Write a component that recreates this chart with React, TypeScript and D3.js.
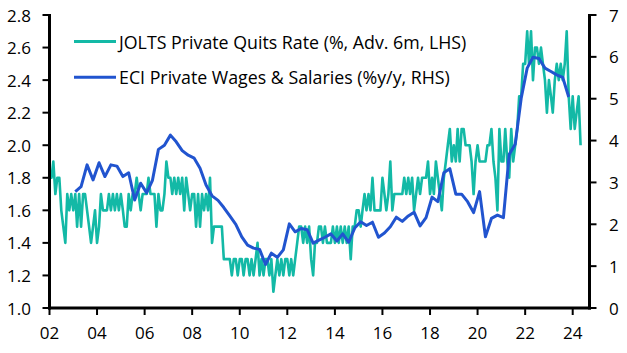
import React from "react";
import * as d3 from "d3";

// JOLTS private quits rate (%), advanced 6 months, monthly from Jan 2002
const joltsStartYear = 2002;
const joltsValues: number[] = [
  // 2002
  1.8, 1.8, 1.9, 1.7, 1.8, 1.8, 1.6, 1.5, 1.4, 1.7, 1.6, 1.7,
  // 2003
  1.6, 1.7, 1.5, 1.7, 1.5, 1.7, 1.7, 1.6, 1.5, 1.4, 1.5, 1.6,
  // 2004
  1.4, 1.5, 1.7, 1.6, 1.6, 1.6, 1.7, 1.6, 1.7, 1.6, 1.7, 1.6,
  // 2005
  1.7, 1.6, 1.5, 1.5, 1.7, 1.6, 1.7, 1.7, 1.8, 1.7, 1.6, 1.7,
  // 2006
  1.7, 1.7, 1.8, 1.7, 1.7, 1.7, 1.5, 1.7, 1.6, 1.6, 1.7, 1.9,
  // 2007
  1.8, 1.8, 1.7, 1.8, 1.7, 1.8, 1.7, 1.8, 1.6, 1.8, 1.7, 1.6,
  // 2008
  1.7, 1.7, 1.5, 1.7, 1.5, 1.7, 1.6, 1.7, 1.6, 1.8, 1.4, 1.5,
  // 2009
  1.5, 1.5, 1.5, 1.5, 1.3, 1.3, 1.3, 1.3, 1.2, 1.3, 1.3, 1.2,
  // 2010
  1.3, 1.3, 1.2, 1.3, 1.3, 1.2, 1.3, 1.2, 1.3, 1.4, 1.2, 1.3,
  // 2011
  1.2, 1.3, 1.3, 1.2, 1.3, 1.1, 1.2, 1.3, 1.2, 1.3, 1.2, 1.3,
  // 2012
  1.3, 1.2, 1.3, 1.2, 1.3, 1.4, 1.5, 1.5, 1.4, 1.5, 1.4, 1.5,
  // 2013
  1.3, 1.2, 1.4, 1.4, 1.5, 1.5, 1.4, 1.5, 1.4, 1.4, 1.4, 1.5,
  // 2014
  1.4, 1.5, 1.4, 1.5, 1.4, 1.5, 1.4, 1.5, 1.3, 1.5, 1.5, 1.6,
  // 2015
  1.6, 1.5, 1.6, 1.7, 1.6, 1.7, 1.6, 1.8, 1.6, 1.6, 1.6, 1.6,
  // 2016
  1.8, 1.7, 1.6, 1.7, 1.9, 1.6, 1.7, 1.7, 1.7, 1.7, 1.7, 1.8,
  // 2017
  1.7, 1.8, 1.7, 1.8, 1.6, 1.7, 1.8, 1.7, 1.8, 1.8, 1.8, 1.9,
  // 2018
  1.7, 1.8, 1.7, 1.9, 1.8, 1.7, 1.6, 1.8, 1.9, 2.0, 2.1, 1.9,
  // 2019
  2.0, 1.9, 2.1, 1.9, 2.1, 2.1, 2.0, 2.0, 2.0, 1.9, 1.7, 1.9,
  // 2020
  2.0, 1.9, 1.9, 1.9, 1.9, 2.0, 2.0, 2.1, 1.9, 1.8, 1.6, 2.1,
  // 2021
  1.9, 1.9, 2.1, 1.9, 1.8, 2.1, 1.9, 2.0, 2.1, 2.3, 2.3, 2.5,
  // 2022
  2.5, 2.7, 2.5, 2.7, 2.4, 2.6, 2.6, 2.5, 2.6, 2.5, 2.4, 2.2,
  // 2023
  2.4, 2.3, 2.2, 2.4, 2.5, 2.4, 2.5, 2.4, 2.5, 2.7, 2.3, 2.1,
  // 2024
  2.3, 2.1, 2.2, 2.3, 2.0,
];

// ECI private wages & salaries (%y/y), quarterly from Q1 2003
const eciStartYear = 2003;
const eciValues: number[] = [
  2.78, 2.90, 3.42, 3.06, 3.47, 3.14, 3.42, 3.39, 3.14, 3.23, 2.58, 2.98,
  2.75, 3.05, 3.79, 3.89, 4.13, 3.97, 3.76, 3.65, 3.58, 3.34, 2.94, 2.68,
  2.57, 2.40, 2.20, 2.00, 1.70, 1.50, 1.43, 1.40, 1.04, 1.31, 1.21, 1.39,
  2.01, 1.82, 1.90, 1.87, 1.55, 1.62, 1.69, 1.77, 1.60, 1.77, 1.57, 1.91,
  2.06, 1.97, 2.05, 1.69, 1.79, 1.94, 2.17, 2.07, 2.20, 2.29, 1.96, 2.16,
  2.65, 2.54, 3.23, 3.33, 2.72, 2.72, 2.54, 2.28, 2.78, 1.70, 2.14, 2.22,
  2.16, 3.67, 3.91, 5.01, 5.73, 5.99, 5.96, 5.73, 5.65, 5.57, 5.51, 5.04,
];

const leftTicks = [1.0, 1.2, 1.4, 1.6, 1.8, 2.0, 2.2, 2.4, 2.6, 2.8];
const rightTicks = [0, 1, 2, 3, 4, 5, 6, 7];
const legendLabels = [
  "JOLTS Private Quits Rate (%, Adv. 6m, LHS)",
  "ECI Private Wages & Salaries (%y/y, RHS)",
];

const W = 627;
const H = 353;
const TEAL = "#13B9A6";
const BLUE = "#2154CF";
const FONT = "'Open Sans', sans-serif";

export default function App() {
  const left = 49.5;
  const right = 589.5;
  const top = 15;
  const bottom = 308;

  const x = d3
    .scaleTime()
    .domain([new Date(2002, 0, 1), new Date(2024, 8, 15)])
    .range([left, right]);
  const yL = d3.scaleLinear().domain([1.0, 2.8]).range([bottom, top]);
  const yR = d3.scaleLinear().domain([0, 7]).range([bottom, top]);

  const jolts = joltsValues.map((v, i) => ({ d: new Date(joltsStartYear, i, 1), v }));
  const eci = eciValues.map((v, i) => ({ d: new Date(eciStartYear, 1 + 3 * i, 1), v }));

  const lineL = d3
    .line<{ d: Date; v: number }>()
    .x((p) => x(p.d))
    .y((p) => yL(p.v));
  const lineR = d3
    .line<{ d: Date; v: number }>()
    .x((p) => x(p.d))
    .y((p) => yR(p.v));

  const xTicks = x.ticks(d3.timeYear.every(2) as any);
  const fmt = d3.timeFormat("%y");
  const tickFont = 17;
  const legendFont = 17.8;

  return (
    <svg
      width={W}
      height={H}
      style={{ position: "absolute", left: 0, top: 0, background: "#fff" }}
      fontFamily={FONT}
    >
      <rect width={W} height={H} fill="#fff" />
      {/* lines */}
      <path d={lineL(jolts) || ""} fill="none" stroke={TEAL} strokeWidth={2.6} strokeLinejoin="round" />
      <path d={lineR(eci) || ""} fill="none" stroke={BLUE} strokeWidth={3} strokeLinejoin="round" />

      {/* left axis */}
      <line x1={left} x2={left} y1={top - 1} y2={bottom + 1.5} stroke="#000" strokeWidth={3} />
      {leftTicks.map((t) => (
        <g key={"l" + t}>
          <line x1={left - 7} x2={left} y1={yL(t)} y2={yL(t)} stroke="#000" strokeWidth={2} />
          <text x={31} y={yL(t)} textAnchor="end" dominantBaseline="central" fontSize={tickFont} fill="#000">
            {t.toFixed(1)}
          </text>
        </g>
      ))}

      {/* right axis */}
      <line x1={right} x2={right} y1={top - 1} y2={bottom + 1.5} stroke="#000" strokeWidth={3} />
      {rightTicks.map((t) => (
        <g key={"r" + t}>
          <line x1={right} x2={right + 7} y1={yR(t)} y2={yR(t)} stroke="#000" strokeWidth={2} />
          <text x={609} y={yR(t)} textAnchor="start" dominantBaseline="central" fontSize={tickFont} fill="#000">
            {t}
          </text>
        </g>
      ))}

      {/* bottom axis */}
      <line x1={left - 1.5} x2={right + 1.5} y1={bottom} y2={bottom} stroke="#000" strokeWidth={3} />
      {xTicks.map((t) => (
        <g key={"x" + t.getTime()}>
          <line x1={x(t)} x2={x(t)} y1={bottom} y2={bottom + 7} stroke="#000" strokeWidth={2} />
          <text x={x(t)} y={332.5} textAnchor="middle" dominantBaseline="central" fontSize={tickFont} fill="#000">
            {fmt(t)}
          </text>
        </g>
      ))}

      {/* legend */}
      {legendLabels.map((lab, i) => {
        const ly = 41.5 + i * 35.7;
        return (
          <g key={lab}>
            <line x1={74} x2={116} y1={ly} y2={ly} stroke={i === 0 ? TEAL : BLUE} strokeWidth={3} />
            <text x={119} y={ly} dominantBaseline="central" fontSize={legendFont} fill="#000">
              {lab}
            </text>
          </g>
        );
      })}
    </svg>
  );
}
